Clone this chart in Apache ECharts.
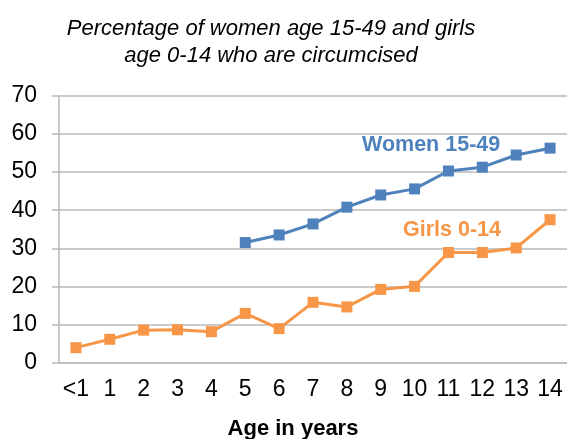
<!DOCTYPE html>
<html>
<head>
<meta charset="utf-8">
<script src="https://cdn.jsdelivr.net/npm/echarts@6/dist/echarts.min.js"></script>
<style>
  html, body { margin: 0; padding: 0; background: #fff; }
  #chart { width: 567px; height: 439px; }
</style>
</head>
<body>
<div id="chart"></div>
<script>
// Age groups on the horizontal axis
const ages = ['<1', '1', '2', '3', '4', '5', '6', '7', '8', '9', '10', '11', '12', '13', '14'];
// Percentage circumcised, women 15-49 by age at circumcision (from age 5 onward)
const women = [null, null, null, null, null, 31.5, 33.5, 36.4, 40.8, 44.0, 45.6, 50.3, 51.3, 54.5, 56.3];
// Percentage circumcised, girls 0-14
const girls = [3.9, 6.1, 8.5, 8.6, 8.1, 12.9, 8.9, 15.8, 14.6, 19.2, 20.0, 28.9, 28.9, 30.1, 37.5];

const FONT = '"Liberation Sans", Arial, sans-serif';
const BLUE = '#4F81BD';
const ORANGE = '#F79646';
const GRID = '#B9B9B9';

const chart = echarts.init(document.getElementById('chart'), null, { renderer: 'canvas' });

chart.setOption({
  animation: false,
  backgroundColor: '#ffffff',
  title: [
    {
      text: 'Percentage of women age 15-49 and girls\nage 0-14 who are circumcised',
      left: 266, top: 10, textAlign: 'center',
      textStyle: { fontFamily: FONT, fontStyle: 'italic', fontWeight: 'normal', fontSize: 22, lineHeight: 27, color: '#000' }
    },
    {
      text: 'Age in years',
      left: 288, top: 413, textAlign: 'center',
      textStyle: { fontFamily: FONT, fontWeight: 'bold', fontSize: 22, color: '#000' }
    }
  ],
  grid: { left: 59, top: 96, width: 514.5, bottom: 76.5, containLabel: false },
  xAxis: {
    type: 'category',
    data: ages,
    boundaryGap: true,
    axisLine: { lineStyle: { color: GRID, width: 1.5 } },
    axisTick: { show: false },
    axisLabel: { fontFamily: FONT, fontSize: 23, color: '#000', margin: 16, interval: 0 }
  },
  yAxis: {
    type: 'value',
    min: 0, max: 70, interval: 10,
    axisLine: { show: true, lineStyle: { color: GRID, width: 1.5 } },
    axisTick: { show: true, length: 7, lineStyle: { color: GRID, width: 1.5 } },
    splitLine: { lineStyle: { color: GRID, width: 1.5 } },
    axisLabel: { fontFamily: FONT, fontSize: 23, color: '#000', margin: 22 }
  },
  series: [
    {
      name: 'Women 15-49',
      type: 'line',
      data: women,
      symbol: 'rect', symbolSize: 11,
      lineStyle: { color: BLUE, width: 3 },
      itemStyle: { color: BLUE },
      connectNulls: false
    },
    {
      name: 'Girls 0-14',
      type: 'line',
      data: girls,
      symbol: 'rect', symbolSize: 11,
      lineStyle: { color: ORANGE, width: 3 },
      itemStyle: { color: ORANGE }
    }
  ],
  graphic: [
    {
      type: 'text', left: 362, top: 134,
      style: { text: 'Women 15-49', font: 'bold 21.5px ' + FONT, fill: BLUE }
    },
    {
      type: 'text', left: 403, top: 219,
      style: { text: 'Girls 0-14', font: 'bold 21.5px ' + FONT, fill: ORANGE }
    }
  ]
});
</script>
</body>
</html>
